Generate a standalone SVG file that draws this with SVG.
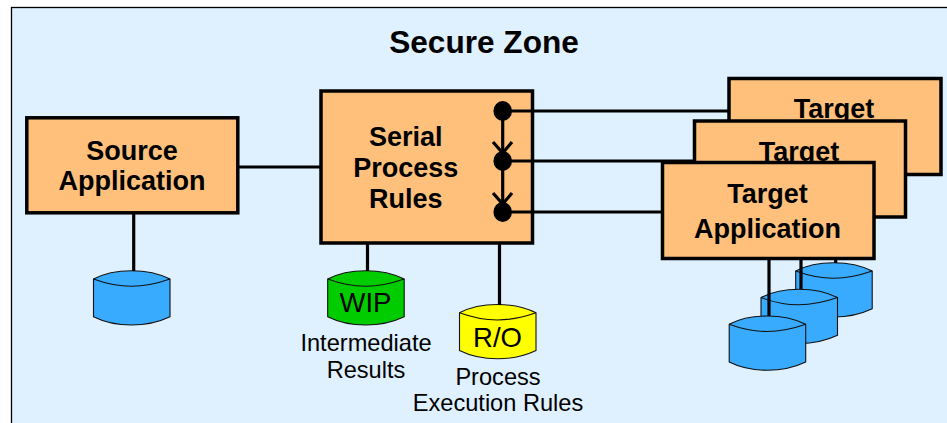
<svg xmlns="http://www.w3.org/2000/svg" width="947" height="423" viewBox="0 0 947 423">
<style>
text{font-family:"Liberation Sans",Arial,sans-serif;fill:#000;text-anchor:middle}
.box{fill:#FFC07C;stroke:#000;stroke-width:3.5}
.t{font-weight:bold;font-size:27px}
.l{font-size:23.6px}
.c{font-size:27.5px}
.cyl{stroke:#111;stroke-width:1.1}
.blue{fill:#38ABFF}.green{fill:#00CC00}.yellow{fill:#FFFF00}
.w{fill:none;stroke:#000;stroke-width:3.2}
</style>
<defs>
<g id="cyl">
<path d="M0 8.3C10 3 25 0 38 0S66 3 76.5 8.3V46C66 51 51 54.3 38 54.3S10 51 0 46Z"/>
<path d="M0 8.3C10 12 25 15.5 38 15.5S66 12 76.5 8.3" fill="none"/>
</g>
</defs>
<rect x="0" y="0" width="947" height="423" fill="#fff"/>
<rect id="panel" x="11.5" y="7.5" width="950" height="430" fill="#DFF0FF" stroke="#000" stroke-width="1.3"/>
<text x="484" y="53" font-size="31.6" font-weight="bold">Secure Zone</text>
<g id="source-db"><use href="#cyl" x="93.5" y="270.7" class="cyl blue"/></g>
<g id="source-app"><rect class="box" x="26.8" y="117.8" width="211" height="95"/><text class="t" x="132" y="160">Source</text><text class="t" x="132" y="190">Application</text></g>
<g id="wip-db"><use href="#cyl" x="327.7" y="270.7" class="cyl green"/><text class="c" x="365.5" y="312">WIP</text><text class="l" x="366" y="351">Intermediate</text><text class="l" x="366" y="378">Results</text></g>
<g id="ro-db"><use href="#cyl" x="459.5" y="304.5" class="cyl yellow"/><text class="c" x="497.5" y="346.5">R/O</text><text class="l" x="498" y="385">Process</text><text class="l" x="498" y="411">Execution Rules</text></g>
<g id="serial"><rect class="box" x="321" y="91" width="211.5" height="152"/><text class="t" x="405.7" y="146">Serial</text><text class="t" x="405.7" y="177">Process</text><text class="t" x="405.7" y="208">Rules</text></g>
<g id="target-db-3"><use href="#cyl" x="795.7" y="262.7" class="cyl blue"/></g>
<g id="target-db-2"><use href="#cyl" x="761" y="289.3" class="cyl blue"/></g>
<g id="target-db-1"><use href="#cyl" x="729.2" y="316" class="cyl blue"/></g>
<g id="target-3"><rect class="box" x="729" y="78.5" width="212" height="96"/><text class="t" x="834" y="118">Target</text></g>
<g id="target-2"><rect class="box" x="694.5" y="121" width="211" height="96"/><text class="t" x="799" y="161">Target</text></g>
<g id="target-1"><rect class="box" x="662.5" y="162.5" width="211.5" height="96"/><text class="t" x="767.5" y="203">Target</text><text class="t" x="767.5" y="238">Application</text></g>
<g id="connectors" class="w">
<path d="M238 167H321"/>
<path d="M133.7 213V271"/>
<path d="M367.5 243V271"/>
<path d="M499.5 243V305"/>
<path d="M502.7 111H729"/>
<path d="M502.7 161H694"/>
<path d="M502.7 212H662"/>
<path d="M502.7 111V212"/>
<path d="M493 142L502.7 153L512 142"/>
<path d="M493 193L502.7 204L512 193"/>
<ellipse cx="502.7" cy="111" rx="9.3" ry="10" fill="#000" stroke="none"/>
<ellipse cx="502.7" cy="161" rx="9.3" ry="10" fill="#000" stroke="none"/>
<ellipse cx="502.7" cy="212" rx="9.3" ry="10" fill="#000" stroke="none"/>
<path d="M769 258V316"/>
<path d="M801 258V289.5"/>
<path d="M835.7 258V263"/>
</g>
</svg>
